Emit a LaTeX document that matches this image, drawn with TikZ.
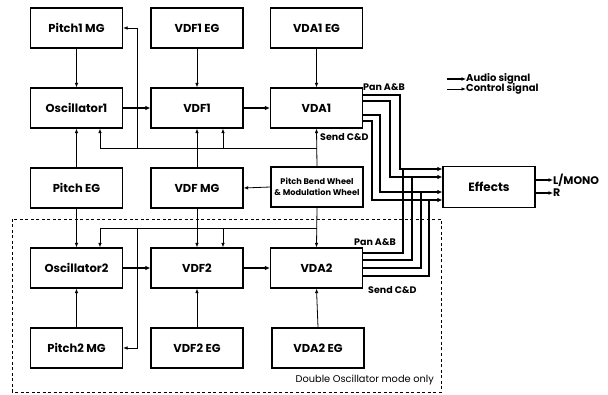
\documentclass[tikz,border=0pt]{standalone}
\usepackage{fontspec}
\setmainfont{Poppins}
\usetikzlibrary{arrows.meta}
\tikzset{
  blk/.style={draw, line width=1.2pt, minimum width=92pt, minimum height=40pt, inner sep=0pt,
    font=\bfseries\fontsize{11.5}{13}\selectfont},
  ctrl/.style={line width=0.8pt},
  ctrlar/.style={ctrl, -{Latex[length=4.5pt,width=3.6pt]}},
  aud/.style={line width=1.8pt},
  audar/.style={aud, -{Latex[length=5pt,width=4.6pt]}},
  lbl/.style={inner sep=0pt, font=\bfseries\fontsize{9.5}{11}\selectfont},
}
\begin{document}
\begin{tikzpicture}[x=1pt,y=-1pt]
\useasboundingbox (0,0) rectangle (608,395);
% blocks
\node[blk] (p1mg)   at (76.5,28)  {Pitch1 MG};
\node[blk] (vdf1eg) at (197,28)   {VDF1 EG};
\node[blk] (vda1eg) at (316.5,28) {VDA1 EG};
\node[blk] (osc1)   at (76.5,108) {Oscillator1};
\node[blk] (vdf1)   at (197,108)  {VDF1};
\node[blk] (vda1)   at (316.5,108){VDA1};
\node[blk] (peg)    at (76.5,188) {Pitch EG};
\node[blk] (vdfmg)  at (197,188)  {VDF MG};
\node[blk, align=center, font=\bfseries\fontsize{8.2}{10.5}\selectfont] (pbw) at (317,187) {Pitch Bend Wheel\\\& Modulation Wheel};
\node[blk] (osc2)   at (76.5,268) {Oscillator2};
\node[blk] (vdf2)   at (197,268)  {VDF2};
\node[blk] (vda2)   at (316.5,268){VDA2};
\node[blk] (p2mg)   at (76.5,348) {Pitch2 MG};
\node[blk] (vdf2eg) at (197,348)  {VDF2 EG};
\node[blk] (vda2eg) at (318,348)  {VDA2 EG};
\node[blk, minimum height=41pt, font=\bfseries\fontsize{12}{14}\selectfont] (eff) at (489,187) {Effects};
% control connections
\draw[ctrlar] (p1mg.south) -- (osc1.north);
\draw[ctrlar] (vdf1eg.south) -- (vdf1.north);
\draw[ctrlar] (vda1eg.south) -- (vda1.north);
\draw[ctrlar] (peg.north) -- (osc1.south);
\draw[ctrlar] (peg.south) -- (osc2.north);
\draw[ctrlar] (vdfmg.north) -- (vdf1.south);
\draw[ctrlar] (vdfmg.south) -- (vdf2.north);
\draw[ctrlar] (pbw.west) -- (vdfmg.east);
\draw[ctrlar] (pbw.north) -- (vda1.south);
\draw[ctrlar] (pbw.south) -- (vda2.north);
\draw[ctrlar] (p2mg.north) -- (osc2.south);
\draw[ctrlar] (vdf2eg.north) -- (vdf2.south);
\draw[ctrlar] (vda2eg.north) -- (vda2.south);
% buses
\coordinate (bu) at (100,148);
\coordinate (bl) at (100,228);
\coordinate (xb) at (137,0);
\coordinate (xc) at (223,0);
\draw[ctrl] (bu) -- (bu -| pbw.north);
\draw[ctrlar] (bu) -- (bu |- osc1.south);
\draw[ctrlar] (xc |- bu) -- (xc |- vdf1.south);
\draw[ctrlar] (xb |- bu) -- (xb |- p1mg.east) -- (p1mg.east);
\draw[ctrl] (bl) -- (bl -| pbw.south);
\draw[ctrlar] (bl) -- (bl |- osc2.north);
\draw[ctrlar] (xc |- bl) -- (xc |- vdf2.north);
\draw[ctrlar] (xb |- bl) -- (xb |- p2mg.east) -- (p2mg.east);
% audio connections
\draw[audar] (osc1.east) -- (vdf1.west);
\draw[audar] (vdf1.east) -- (vda1.west);
\draw[audar] (osc2.east) -- (vdf2.west);
\draw[audar] (vdf2.east) -- (vda2.west);
% effects inputs
\coordinate (e1) at ([yshift=18pt]eff.west);
\coordinate (e2) at ([yshift=10pt]eff.west);
\coordinate (e3) at ([yshift=-5pt]eff.west);
\coordinate (e4) at ([yshift=-13pt]eff.west);
% VDA1 outputs
\coordinate (a1) at ([yshift=13pt]vda1.east);
\coordinate (a2) at ([yshift=7pt]vda1.east);
\coordinate (a3) at ([yshift=-7pt]vda1.east);
\coordinate (a4) at ([yshift=-13pt]vda1.east);
\draw[audar] (a1) -| (400,169) -- (e1);
\draw[audar] (a2) -| (390,177) -- (e2);
\draw[audar] (a3) -| (380,192) -- (e3);
\draw[audar] (a4) -| (372,200) -- (e4);
% VDA2 outputs
\coordinate (b1) at ([yshift=15pt]vda2.east);
\coordinate (b2) at ([yshift=8pt]vda2.east);
\coordinate (b3) at ([yshift=0pt]vda2.east);
\coordinate (b4) at ([yshift=-8pt]vda2.east);
\draw[aud] (b1) -| (403,169);
\draw[aud] (b2) -| (412,177);
\draw[aud] (b3) -| (421,192);
\draw[aud] (b4) -| (429,200);
% labels
\node[lbl, anchor=south west] (pan1) at (363,91) {Pan A\&B};
\node[lbl, anchor=west] (send1) at (320,137) {Send C\&D};
\node[lbl, anchor=south west] (pan2) at (354,246) {Pan A\&B};
\node[lbl, anchor=west] (send2) at (368,290) {Send C\&D};
% outputs
\node[lbl, anchor=west, font=\bfseries\fontsize{11}{12}\selectfont] (lmono) at (553,180) {L/MONO};
\node[lbl, anchor=west, font=\bfseries\fontsize{11}{12}\selectfont] (rout) at (553,193) {R};
\draw[ctrl, line width=1.4pt, -{Latex[length=4.5pt,width=4pt]}] (eff.east |- lmono.west) -- (lmono.west);
\draw[ctrl, line width=1.4pt, -{Latex[length=4.5pt,width=4pt]}] (eff.east |- rout.west) -- (rout.west);
% legend
\node[lbl, anchor=west, font=\bfseries\fontsize{10}{11}\selectfont] (legA) at (466,79) {Audio signal};
\node[lbl, anchor=west, font=\bfseries\fontsize{10}{11}\selectfont] (legC) at (466,89) {Control signal};
\coordinate (la) at (447,79);
\coordinate (lc) at (447,89);
\draw[aud, line width=1.5pt, -{Latex[length=4.5pt,width=4pt]}] (la) -- (legA.west);
\draw[ctrlar] (lc) -- (legC.west);
% double oscillator region
\draw[line width=0.9pt, dash pattern=on 3pt off 2.5pt] (12,219) rectangle (441,392);
\node[anchor=east, inner sep=0pt, font=\fontsize{9.8}{11}\selectfont] (dbl) at (434,380) {Double Oscillator mode only};
\end{tikzpicture}
\end{document}
